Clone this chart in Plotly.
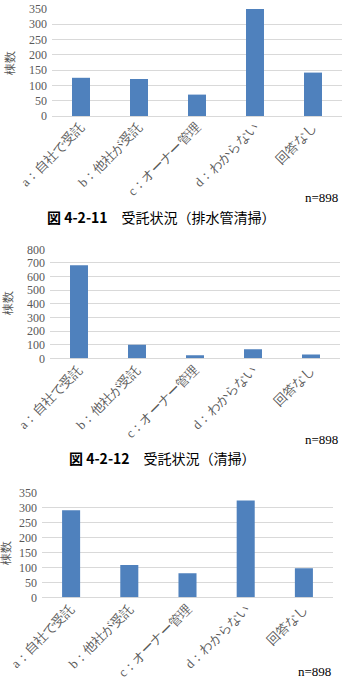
import plotly.graph_objects as go

W, H = 342, 679

categories = ["a：自社で受託", "b：他社が受託", "c：オーナー管理", "d：わからない", "回答なし"]
values_haisuikan = [125, 121, 70, 350, 142]
values_seisou = [683, 99, 22, 67, 27]
values_third = [290, 108, 80, 323, 97]

captions = ["<b>図 4-2-11</b>　受託状況（排水管清掃）", "<b>図 4-2-12</b>　受託状況（清掃）"]
n_label = "n=898"
y_title = "棟数"

BAR = "#4f81bd"
GRID = "#d9d9d9"
TXT = "#595959"
SERIF = "Liberation Serif"
SANS = "Noto Sans CJK JP"


def xd(a, b):
    return [a / W, b / W]


def yd(top, bottom):
    return [1 - bottom / H, 1 - top / H]


panels = [
    dict(vals=values_haisuikan, x=(52, 342), y=(9, 116), rng=350, dt=50,
         ytitle=(10, 63), n=(340, 197)),
    dict(vals=values_seisou, x=(50, 340), y=(249.3, 358.3), rng=800, dt=100,
         ytitle=(8, 303), n=(340, 439)),
    dict(vals=values_third, x=(42, 333), y=(492.3, 597.3), rng=350, dt=50,
         ytitle=(6, 553), n=(333, 671)),
]

fig = go.Figure()
annotations = []
for i, p in enumerate(panels):
    k = "" if i == 0 else str(i + 1)
    fig.add_trace(go.Bar(x=categories, y=p["vals"], marker_color=BAR,
                         marker_line_width=0, width=0.31,
                         xaxis="x" + k, yaxis="y" + k, showlegend=False))
    fig.update_layout(**{
        "xaxis" + k: dict(domain=xd(*p["x"]), anchor="y" + k,
                          type="category", range=[-0.5, 4.5],
                          automargin=False,
                          tickangle=-45, showgrid=False, showline=False,
                          zeroline=False, ticks="",
                          tickfont=dict(family=SERIF, size=13, color=TXT)),
        "yaxis" + k: dict(domain=yd(*p["y"]), anchor="x" + k,
                          range=[0, p["rng"]], dtick=p["dt"],
                          automargin=False,
                          showgrid=True, gridcolor=GRID, gridwidth=1,
                          zeroline=True, zerolinecolor=GRID, zerolinewidth=1,
                          showline=False, ticks="", ticklabelstandoff=4,
                          tickfont=dict(family=SERIF, size=12, color=TXT)),
    })
    tx, ty = p["ytitle"]
    annotations.append(dict(text=y_title, x=tx / W, y=1 - ty / H,
                            xref="paper", yref="paper", showarrow=False,
                            textangle=-90, xanchor="center", yanchor="middle",
                            font=dict(family=SERIF, size=12, color=TXT)))
    nx, ny = p["n"]
    annotations.append(dict(text=n_label, x=nx / W, y=1 - ny / H,
                            xref="paper", yref="paper", showarrow=False,
                            xanchor="right", yanchor="middle",
                            font=dict(family=SERIF, size=13, color="#000000")))

cap_pos = [(161, 217), (162, 458)]
for cap, (cx, cy) in zip(captions, cap_pos):
    annotations.append(dict(text=cap, x=cx / W, y=1 - cy / H,
                            xref="paper", yref="paper", showarrow=False,
                            xanchor="center", yanchor="middle",
                            font=dict(family=SANS, size=14, color="#000000")))

fig.update_layout(width=W, height=H,
                  margin=dict(l=0, r=0, t=0, b=0, autoexpand=False),
                  paper_bgcolor="white", plot_bgcolor="white",
                  annotations=annotations, bargap=0.69)

fig.write_html("out.html")
